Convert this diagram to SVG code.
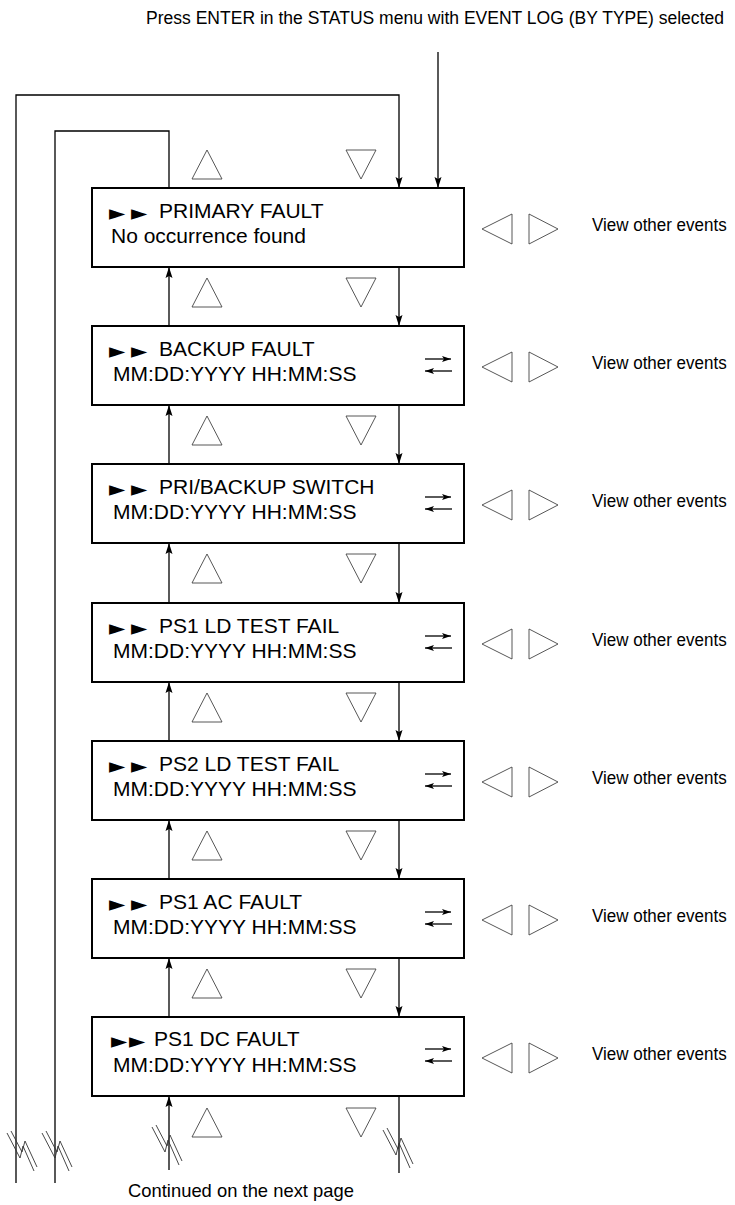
<svg xmlns="http://www.w3.org/2000/svg" width="735" height="1205" viewBox="0 0 735 1205">
<style>
.box{fill:#fff;stroke:#000;stroke-width:2}
.t{font-family:"Liberation Sans",Arial,sans-serif;font-size:21px;fill:#000}
.ptr{font-family:"DejaVu Sans",sans-serif;font-size:21px;fill:#000}
.lbl{font-family:"Liberation Sans",Arial,sans-serif;font-size:19px;fill:#000}
.tri{fill:#fff;stroke:#444;stroke-width:0.9}
.c{fill:none;stroke:#000;stroke-width:1.3}
.ca{fill:none;stroke:#000;stroke-width:1.3;marker-end:url(#ah)}
.x{fill:none;stroke:#000;stroke-width:1.3;marker-end:url(#sh)}
.brk{fill:none;stroke:#333;stroke-width:0.9}
</style>
<defs>
<marker id="ah" markerWidth="12" markerHeight="8" refX="11" refY="4" orient="auto" markerUnits="userSpaceOnUse"><path d="M0,0.5 L11,4 L0,7.5 L2,4 Z" fill="#000"/></marker>
<marker id="sh" markerWidth="9" markerHeight="6" refX="9" refY="3" orient="auto" markerUnits="userSpaceOnUse"><path d="M0,0 L9,3 L0,6 L2,3 Z" fill="#000"/></marker>
<g id="brk"><polyline class="brk" points="0,2 13,27 16,15 27,40"/><polyline class="brk" points="4,0 15,21 18,10 30,36"/></g>
<polygon id="up" class="tri" points="192,29 222,29 207,0"/>
<polygon id="dn" class="tri" points="346,0 376,0 361,29"/>
<g id="lr"><polygon class="tri" points="512,0 512,30 482,15"/><polygon class="tri" points="529,0 529,30 558,15"/></g>
<g id="xa"><line class="x" x1="425" y1="0" x2="451" y2="0"/><line class="x" x1="452" y1="12" x2="425" y2="12"/></g>
<text id="voe" class="lbl" x="0" y="0" transform="scale(0.88,1)" textLength="153" lengthAdjust="spacingAndGlyphs">View other events</text>
</defs>

<text class="lbl" font-size="18" transform="translate(146,24) scale(0.85,1)" x="0" y="0" textLength="680" lengthAdjust="spacingAndGlyphs">Press ENTER in the STATUS menu with EVENT LOG  (BY TYPE) selected</text>

<g id="connectors">
<path class="ca" d="M438,52 V188"/>
<path class="ca" d="M16,1183 V95 H399 V188"/>
<path class="c" d="M169,188 V131 H55 V1183"/>
<path class="ca" d="M399,267 V326"/><path class="ca" d="M169,326 V267"/>
<path class="ca" d="M399,405 V464"/><path class="ca" d="M169,464 V405"/>
<path class="ca" d="M399,543 V603"/><path class="ca" d="M169,603 V543"/>
<path class="ca" d="M399,682 V741"/><path class="ca" d="M169,741 V682"/>
<path class="ca" d="M399,820 V879"/><path class="ca" d="M169,879 V820"/>
<path class="ca" d="M399,958 V1017"/><path class="ca" d="M169,1017 V958"/>
<path class="ca" d="M169,1170 V1096"/>
<path class="c" d="M399,1096 V1173"/>
<use href="#brk" x="7" y="1131"/>
<use href="#brk" x="42" y="1131"/>
<use href="#brk" x="152" y="1125"/>
<use href="#brk" x="383" y="1128"/>
</g>

<g id="keys">
<use href="#up" y="150"/><use href="#dn" y="150"/>
<use href="#up" y="278"/><use href="#dn" y="278"/>
<use href="#up" y="416"/><use href="#dn" y="416"/>
<use href="#up" y="554"/><use href="#dn" y="554"/>
<use href="#up" y="693"/><use href="#dn" y="693"/>
<use href="#up" y="831"/><use href="#dn" y="831"/>
<use href="#up" y="969"/><use href="#dn" y="969"/>
<use href="#up" y="1108"/><use href="#dn" y="1108"/>
</g>

<g id="n1">
<rect class="box" x="92" y="188" width="372" height="79"/>
<text class="ptr" y="220"><tspan x="109">►</tspan><tspan x="131">►</tspan></text>
<text class="t" x="159" y="218">PRIMARY FAULT</text>
<text class="t" x="111" y="243">No occurrence found</text>
<use href="#lr" y="214"/>
<use href="#voe" x="592" y="231"/>
</g>
<g id="n2">
<rect class="box" x="92" y="326" width="372" height="79"/>
<text class="ptr" y="358"><tspan x="109">►</tspan><tspan x="131">►</tspan></text>
<text class="t" x="159" y="356">BACKUP FAULT</text>
<text class="t" x="113" y="381">MM:DD:YYYY HH:MM:SS</text>
<use href="#xa" y="359"/>
<use href="#lr" y="352"/>
<use href="#voe" x="592" y="369"/>
</g>
<g id="n3">
<rect class="box" x="92" y="464" width="372" height="79"/>
<text class="ptr" y="496"><tspan x="109">►</tspan><tspan x="131">►</tspan></text>
<text class="t" x="159" y="494">PRI/BACKUP SWITCH</text>
<text class="t" x="113" y="519">MM:DD:YYYY HH:MM:SS</text>
<use href="#xa" y="497"/>
<use href="#lr" y="490"/>
<use href="#voe" x="592" y="507"/>
</g>
<g id="n4">
<rect class="box" x="92" y="603" width="372" height="79"/>
<text class="ptr" y="635"><tspan x="109">►</tspan><tspan x="131">►</tspan></text>
<text class="t" x="159" y="633">PS1 LD TEST FAIL</text>
<text class="t" x="113" y="658">MM:DD:YYYY HH:MM:SS</text>
<use href="#xa" y="636"/>
<use href="#lr" y="629"/>
<use href="#voe" x="592" y="646"/>
</g>
<g id="n5">
<rect class="box" x="92" y="741" width="372" height="79"/>
<text class="ptr" y="773"><tspan x="109">►</tspan><tspan x="131">►</tspan></text>
<text class="t" x="159" y="771">PS2 LD TEST FAIL</text>
<text class="t" x="113" y="796">MM:DD:YYYY HH:MM:SS</text>
<use href="#xa" y="774"/>
<use href="#lr" y="767"/>
<use href="#voe" x="592" y="784"/>
</g>
<g id="n6">
<rect class="box" x="92" y="879" width="372" height="79"/>
<text class="ptr" y="911"><tspan x="109">►</tspan><tspan x="131">►</tspan></text>
<text class="t" x="159" y="909">PS1 AC FAULT</text>
<text class="t" x="113" y="934">MM:DD:YYYY HH:MM:SS</text>
<use href="#xa" y="912"/>
<use href="#lr" y="905"/>
<use href="#voe" x="592" y="922"/>
</g>
<g id="n7">
<rect class="box" x="92" y="1017" width="372" height="79"/>
<text class="ptr" y="1048"><tspan x="111">►</tspan><tspan x="129">►</tspan></text>
<text class="t" x="154" y="1046">PS1 DC FAULT</text>
<text class="t" x="113" y="1072">MM:DD:YYYY HH:MM:SS</text>
<use href="#xa" y="1049"/>
<use href="#lr" y="1043"/>
<use href="#voe" x="592" y="1060"/>
</g>

<text class="lbl" x="128" y="1197" font-size="18" textLength="226" lengthAdjust="spacingAndGlyphs">Continued on the next page</text>
</svg>
